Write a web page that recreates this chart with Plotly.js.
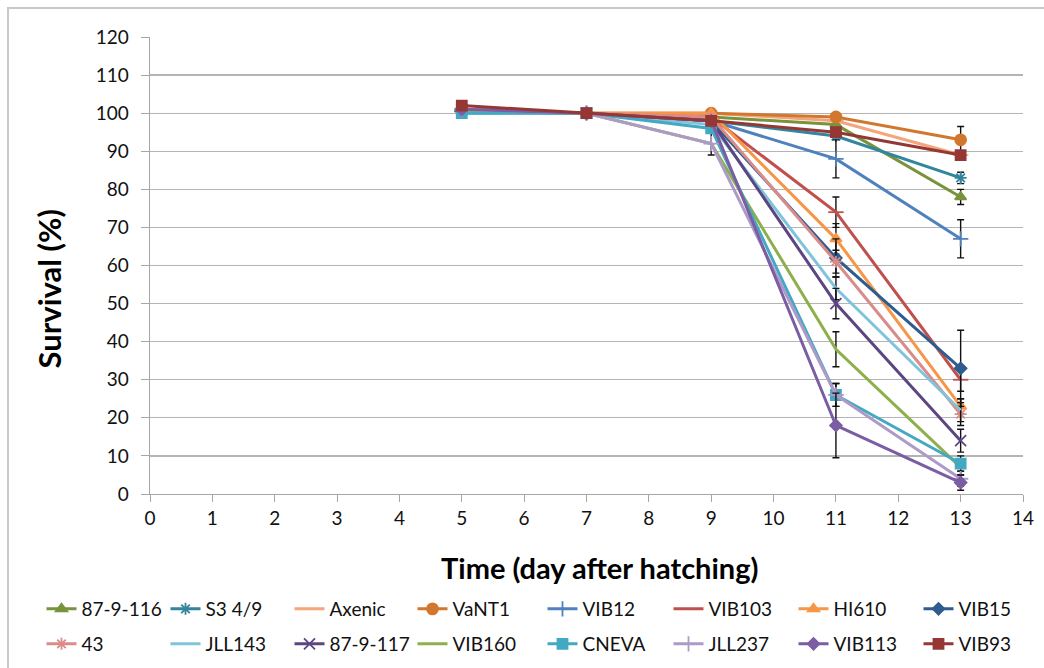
<!DOCTYPE html>
<html>
<head>
<meta charset="utf-8">
<script src="https://cdn.plot.ly/plotly-3.0.1.min.js"></script>
<style>
html,body{margin:0;padding:0;background:#fff;}
#wrap{position:relative;width:1044px;height:668px;}
#chart{position:absolute;left:0;top:0;width:1044px;height:668px;}
#frame{position:absolute;left:7px;top:7px;width:1100px;height:700px;border-left:2px solid #c8c8c8;border-top:2px solid #c8c8c8;pointer-events:none;}
</style>
</head>
<body>
<div id="wrap"><div id="chart"></div><div id="frame"></div></div>
<script>
const days = [5, 7, 9, 11, 13];
const names = ["87-9-116","S3 4/9","Axenic","VaNT1","VIB12","VIB103","HI610","VIB15",
               "43","JLL143","87-9-117","VIB160","CNEVA","JLL237","VIB113","VIB93"];
const s_87_9_116 = [101, 100, 99, 97, 78];
const s_S3_4_9   = [100.5, 100, 98, 94, 83];
const s_Axenic   = [100.5, 100, 100, 98, 89];
const s_VaNT1    = [101, 100, 100, 99, 93];
const s_VIB12    = [100.5, 100, 98, 88, 67];
const s_VIB103   = [101, 100, 99, 74, 30];
const s_HI610    = [101, 100, 100, 67, 23];
const s_VIB15    = [100.5, 100, 98, 62, 33];
const s_43       = [101, 100, 99, 61, 21];
const s_JLL143   = [100, 100, 97, 54, 22];
const s_87_9_117 = [101, 100, 98, 50, 14];
const s_VIB160   = [100.5, 100, 92, 38, 7];
const s_CNEVA    = [100, 100, 96, 26, 8];
const s_JLL237   = [101, 100, 92, 26, 4];
const s_VIB113   = [101, 100, 98, 18, 3];
const s_VIB93    = [102, 100, 98, 95, 89];
const values = [s_87_9_116,s_S3_4_9,s_Axenic,s_VaNT1,s_VIB12,s_VIB103,s_HI610,s_VIB15,
                s_43,s_JLL143,s_87_9_117,s_VIB160,s_CNEVA,s_JLL237,s_VIB113,s_VIB93];
// error bars (symmetric)
const e_87_9_116 = [0, 0, 0, 1, 2];
const e_S3_4_9   = [0, 0, 0, 0, 1.5];
const e_Axenic   = [0, 0, 0, 0, 0];
const e_VaNT1    = [0, 0, 0, 0, 3.5];
const e_VIB12    = [0, 0, 0, 5, 5];
const e_VIB103   = [0, 0, 0, 4, 3];
const e_HI610    = [0, 0, 0, 4, 2];
const e_VIB15    = [0, 0, 0, 5, 10];
const e_43       = [0, 0, 0, 3, 3];
const e_JLL143   = [0, 0, 0, 3, 3];
const e_87_9_117 = [0, 0, 0, 4, 3];
const e_VIB160   = [0, 0, 3, 4.6, 2];
const e_CNEVA    = [0, 0, 0, 3, 2];
const e_JLL237   = [0, 0, 0, 3, 2];
const e_VIB113   = [0, 0, 0, 8.5, 2];
const e_VIB93    = [0, 0, 0, 1, 1];
const errors = [e_87_9_116,e_S3_4_9,e_Axenic,e_VaNT1,e_VIB12,e_VIB103,e_HI610,e_VIB15,
                e_43,e_JLL143,e_87_9_117,e_VIB160,e_CNEVA,e_JLL237,e_VIB113,e_VIB93];

const colors = ["#77933C","#31859C","#F4A57A","#D2772E","#4F81BD","#C0504D","#F79646","#2E5C8F",
                "#D98C8A","#7FC4DB","#5B4682","#8DB04C","#43A9C2","#AE9AC6","#7B5DA3","#953735"];
const symbols = ["triangle-up","asterisk","line-ew","circle","cross-thin","line-ew","triangle-up","diamond",
                 "asterisk","line-ew","x-thin","line-ew","square","cross-thin","diamond","square"];
const sizes = [10,10,11,11,11,11,10,9, 10,0,11,0,10,11,9,10];

// legend column starts (px, left edge of the legend sample line) and row centres
const legendColumns = [48, 172, 296, 419, 549, 675, 800, 925];
const legendRows = [609, 644];

const font = "Lato, 'Open Sans', sans-serif";
const legendId = i => (i === 0 ? "legend" : "legend" + (i + 1));

const traces = names.map((n, i) => ({
  type: "scatter",
  mode: sizes[i] > 0 ? "lines+markers" : "lines",
  name: n,
  x: days,
  y: values[i],
  legend: legendId(i),
  line: {color: colors[i], width: 3},
  marker: {symbol: symbols[i], size: sizes[i] || 6, color: colors[i],
           line: {color: colors[i], width: 1.8}},
  error_y: {type: "data", array: errors[i], visible: true, color: "#111", thickness: 1.4, width: 3.5}
}));

const layout = {
  width: 1044, height: 668,
  margin: {l: 150, r: 21, t: 37, b: 174},
  paper_bgcolor: "rgba(0,0,0,0)", plot_bgcolor: "#fff",
  showlegend: true,
  xaxis: {
    range: [0, 14], dtick: 1, tick0: 0, showgrid: false, zeroline: false,
    showline: true, linecolor: "#a6a6a6", linewidth: 1.3,
    ticks: "outside", ticklen: 7, tickcolor: "#a6a6a6",
    tickfont: {family: font, size: 19, color: "#111"}
  },
  yaxis: {
    range: [0, 120], dtick: 10, tick0: 0, showgrid: true, gridcolor: "#b4b4b4", gridwidth: 1.3,
    zeroline: false, showline: true, linecolor: "#a6a6a6", linewidth: 1.3,
    ticks: "outside", ticklen: 8, tickcolor: "#a6a6a6", ticklabelstandoff: 8,
    tickfont: {family: font, size: 19, color: "#111"}
  },
  annotations: [{
    text: "<b>Survival (%)</b>", textangle: -90, showarrow: false,
    xref: "paper", yref: "paper", x: (48.5 - 150) / 873, y: (494 - 289) / 457,
    xanchor: "center", yanchor: "middle",
    font: {family: font, size: 31, color: "#000"}
  }, {
    text: "<b>Time (day after hatching)</b>", showarrow: false,
    xref: "paper", yref: "paper", x: (599 - 150) / 873, y: (494 - 567) / 457,
    xanchor: "center", yanchor: "middle",
    font: {family: font, size: 29, color: "#000"}
  }]
};
names.forEach((n, i) => {
  const col = legendColumns[i % 8];
  const row = legendRows[Math.floor(i / 8)];
  layout[legendId(i)] = {
    orientation: "h", xref: "container", yref: "container", xanchor: "left", yanchor: "middle",
    x: (col - 6.5) / 1044, y: 1 - row / 668,
    font: {family: font, size: 19, color: "#111"}, itemwidth: 30,
    bgcolor: "rgba(0,0,0,0)"
  };
});
Plotly.newPlot("chart", traces, layout, {displayModeBar: false, staticPlot: true});
</script>
</body>
</html>
